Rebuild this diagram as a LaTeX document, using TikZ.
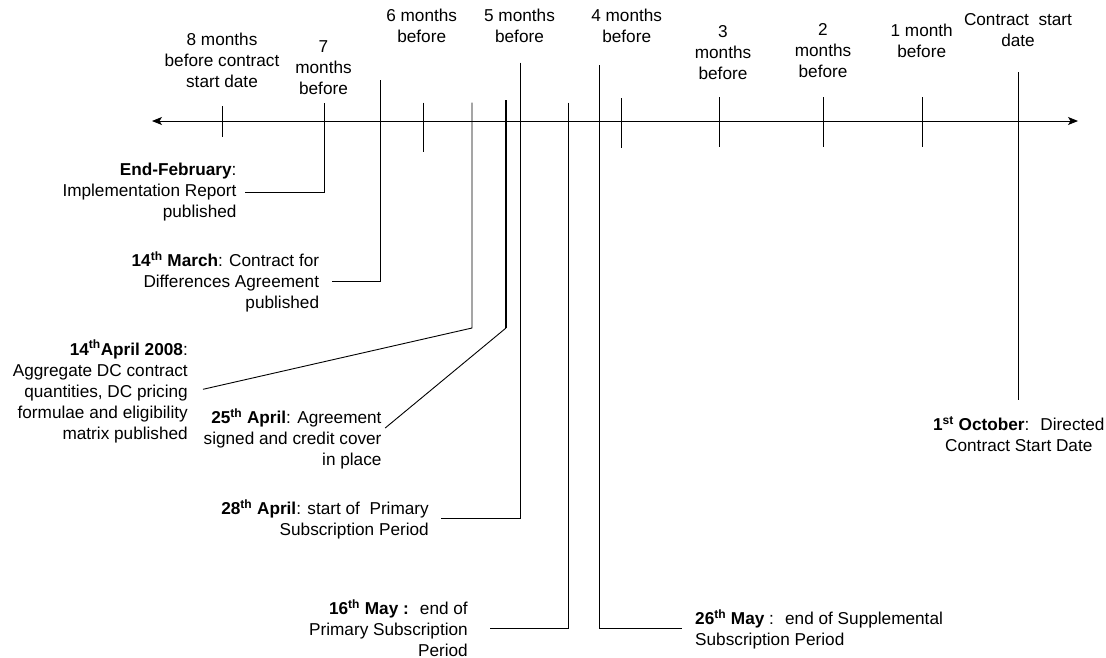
\documentclass[tikz,border=0pt]{standalone}
\usepackage{fontspec}
\setmainfont{Liberation Sans}
\usetikzlibrary{arrows.meta}
\begin{document}
\begin{tikzpicture}[x=1pt,y=-1pt,
  lbl/.style={inner sep=0pt, font=\fontsize{17.2}{21}\selectfont},
  lblR/.style={lbl, anchor=east, align=right},
  lblL/.style={lbl, anchor=west, align=left},
  lblC/.style={lbl, align=center},
  ln/.style={line width=0.9pt, black},
  thk/.style={line width=2pt, black}
]
\useasboundingbox (0,0) rectangle (1106,657);

% time axis
\coordinate (L) at (152,121);
\coordinate (R) at (1078,121);
\draw[ln, {Stealth[length=10pt,width=8pt,inset=2.5pt]}-{Stealth[length=10pt,width=8pt,inset=2.5pt]}] (L) -- (R);

% month ticks
\draw[ln] (222.7,106) -- (222.7,137);
\draw[ln] (423.5,102.5) -- (423.5,151.7);
\draw[ln] (621.5,98.3) -- (621.5,147.7);
\draw[ln] (719.3,97) -- (719.3,147);
\draw[ln] (823.3,97) -- (823.3,147);
\draw[ln] (922.7,97) -- (922.7,147);

% top labels
\node[lblC] (m8) at (222,60) {8 months\\before contract\\start date};
\node[lblC] (m7) at (323.5,68) {7\\months\\before};
\node[lblC] (m6) at (421.7,26) {6 months\\before};
\node[lblC] (m5) at (519.5,26) {5 months\\before};
\node[lblC] (m4) at (626.7,26) {4 months\\before};
\node[lblC] (m3) at (723,53) {3\\months\\before};
\node[lblC] (m2) at (823,51) {2\\months\\before};
\node[lblC] (m1) at (921.7,41) {1 month\\before};
\node[lblC] (m0) at (1018,30.5) {Contract~~start\\date};

% event labels
\node[lblR] (feb) at (236.7,192) {\textbf{End-February}:\\Implementation Report\\published};
\node[lblR] (mar) at (319.3,281.7) {\textbf{14\textsuperscript{th} March}: Contract for\\Differences Agreement\\published};
\node[lblR] (apr14) at (188,391.3) {\textbf{14\textsuperscript{th}April 2008}:\\Aggregate DC contract\\quantities, DC pricing\\formulae and eligibility\\matrix published};
\node[lblR] (apr25) at (381.7,439) {\textbf{25\textsuperscript{th} April}: Agreement\\signed and credit cover\\in place};
\node[lblR] (apr28) at (429,519.5) {\textbf{28\textsuperscript{th} April}: start of~ Primary\\Subscription Period};
\node[lblR] (may16) at (468,628) {\textbf{16\textsuperscript{th} May :}~ end of\\Primary Subscription\\Period};
\node[lblL] (may26) at (695,629.3) {\textbf{26\textsuperscript{th} May} :~ end of Supplemental\\Subscription Period};
\node[lblC] (oct1) at (1018.8,434) {\textbf{1\textsuperscript{st} October}:~ Directed\\Contract Start Date};

% connectors
\coordinate (c7) at (324,103);
\draw[ln] (c7) |- ([xshift=8pt]feb.east);
\coordinate (c6) at (380.5,80);
\draw[ln] (c6) |- ([xshift=12.4pt]mar.east);
\coordinate (c14) at (472,102.5);
\coordinate (c14b) at (472,328);
\draw[ln] (c14) -- (c14b) -- ([xshift=15pt,yshift=2pt]apr14.east);
\coordinate (c25) at (506,100);
\coordinate (c25b) at (506,328);
\draw[thk] (c25) -- (c25b);
\draw[ln] (c25b) -- ([xshift=3.5pt,yshift=11pt]apr25.east);
\coordinate (c5) at (520.5,62.7);
\draw[ln] (c5) |- ([xshift=12pt,yshift=1.5pt]apr28.east);
\coordinate (c16) at (568.8,102.7);
\draw[ln] (c16) |- ([xshift=22pt]may16.east);
\coordinate (c26) at (599.2,65);
\draw[ln] (c26) |- ([xshift=-13pt,yshift=1pt]may26.west);
\coordinate (c0) at (1018.3,72);
\draw[ln] (c0) -- ([yshift=16pt]c0 |- oct1.north);
\end{tikzpicture}
\end{document}
